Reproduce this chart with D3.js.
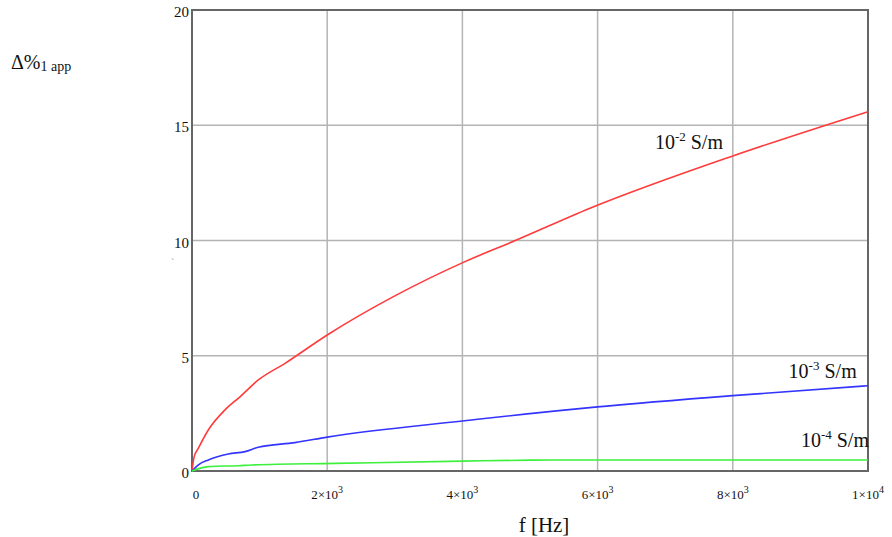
<!DOCTYPE html>
<html>
<head>
<meta charset="utf-8">
<script src="https://cdn.jsdelivr.net/npm/d3@7"></script>
<style>
  body { margin: 0; background: #fff; }
  text { font-family: "Liberation Serif", "Times New Roman", serif; fill: #111; }
</style>
</head>
<body>
<div id="chart"></div>
<script>
// frequency axis ticks (mantissa x 10^exp)
var xTicks = [0, 2000, 4000, 6000, 8000, 10000];
var xTickMant = ["0", "2×10", "4×10", "6×10", "8×10", "1×10"];
var xTickExp = ["", "3", "3", "3", "3", "4"];
var yTicks = [0, 5, 10, 15, 20];

// sigma = 1e-2 S/m
var redF = [0, 30, 93, 241, 488, 710, 981, 1376, 2000, 3028, 4005, 4800, 5888, 8000, 10000];
var redV = [0, 0.6, 0.98, 1.78, 2.65, 3.22, 3.95, 4.67, 5.9, 7.64, 9.04, 10.02, 11.4, 13.67, 15.59];
// sigma = 1e-3 S/m
var blueF = [0, 100, 241, 537, 784, 981, 1523, 2000, 4000, 6000, 8000, 10000];
var blueV = [0, 0.28, 0.48, 0.74, 0.84, 1.03, 1.23, 1.47, 2.17, 2.78, 3.27, 3.70];
// sigma = 1e-4 S/m
var greenF = [0, 241, 685, 882, 2115, 4000, 5000, 6000, 8000, 10000];
var greenV = [0, 0.19, 0.23, 0.26, 0.33, 0.43, 0.47, 0.48, 0.48, 0.48];

var seriesNames = ["-2", "-3", "-4"];
var seriesColors = ["#ff3b3b", "#3434ff", "#3cf03c"];
// label anchor in data coords (right end of text, baseline)
var labelF = [7855, 9833, 10015];
var labelV = [13.96, 4.02, 1.03];

var W = 892, H = 537;
var margin = {left: 192, top: 10, right: 24, bottom: 66};
var w = W - margin.left - margin.right;
var h = H - margin.top - margin.bottom;

var svg = d3.select("#chart").append("svg")
    .attr("width", W)
    .attr("height", H);

var g = svg.append("g")
    .attr("transform", "translate(" + margin.left + "," + margin.top + ")");

var x = d3.scaleLinear().domain([0, 10000]).range([0, w]);
var y = d3.scaleLinear().domain([0, 20]).range([h, 0]);

// grid
g.selectAll(".vgrid")
    .data(xTicks.slice(1, -1))
    .enter().append("line")
    .attr("x1", function(d) { return x(d); })
    .attr("x2", function(d) { return x(d); })
    .attr("y1", 0).attr("y2", h)
    .attr("stroke", "#b4b4b4").attr("stroke-width", 1.5);

g.selectAll(".hgrid")
    .data(yTicks.slice(1, -1))
    .enter().append("line")
    .attr("y1", function(d) { return y(d); })
    .attr("y2", function(d) { return y(d); })
    .attr("x1", 0).attr("x2", w)
    .attr("stroke", "#b4b4b4").attr("stroke-width", 1.5);

// frame
g.append("rect")
    .attr("x", 0).attr("y", 0)
    .attr("width", w).attr("height", h)
    .attr("fill", "none")
    .attr("stroke", "#666").attr("stroke-width", 2);

// curves
var line = d3.line()
    .curve(d3.curveMonotoneX)
    .x(function(d) { return x(d[0]); })
    .y(function(d) { return y(d[1]); });

var allF = [redF, blueF, greenF];
var allV = [redV, blueV, greenV];

allF.forEach(function(fs, i) {
    var pts = fs.map(function(f, k) { return [f, allV[i][k]]; });
    g.append("path")
        .datum(pts)
        .attr("d", line)
        .attr("fill", "none")
        .attr("stroke", seriesColors[i])
        .attr("stroke-width", 1.6);
});

// curve labels
seriesNames.forEach(function(s, i) {
    var t = g.append("text")
        .attr("x", x(labelF[i]))
        .attr("y", y(labelV[i]))
        .attr("text-anchor", "end")
        .style("font-size", "20px");
    t.append("tspan").text("10");
    t.append("tspan").attr("dy", -8).style("font-size", "13px").text(s);
    t.append("tspan").attr("dy", 8).text(" S/m");
});

// y tick labels
g.selectAll(".ylab")
    .data(yTicks)
    .enter().append("text")
    .attr("x", -3)
    .attr("y", function(d) { return y(d) + 7; })
    .attr("text-anchor", "end")
    .style("font-size", "15px")
    .text(function(d) { return d; });

// x tick labels
xTicks.forEach(function(d, i) {
    var t = g.append("text")
        .attr("x", x(d) + (i === 0 ? 4 : 0))
        .attr("y", h + 28)
        .attr("text-anchor", "middle")
        .style("font-size", "13px");
    t.append("tspan").text(xTickMant[i]);
    if (xTickExp[i]) {
        t.append("tspan").attr("dy", -6).style("font-size", "10px").text(xTickExp[i]);
    }
});

// axis titles
svg.append("text")
    .attr("x", 544)
    .attr("y", 532)
    .attr("text-anchor", "middle")
    .style("font-size", "21px")
    .text("f [Hz]");

var yt = svg.append("text")
    .attr("x", 11)
    .attr("y", 69)
    .style("font-size", "20px");
yt.append("tspan").text("Δ%");
yt.append("tspan").attr("dy", 2).style("font-size", "14px").text("1 app");

// stray mark left of the axis
svg.append("text")
    .attr("x", 171)
    .attr("y", 266)
    .style("font-size", "10px")
    .style("fill", "#999")
    .text("`");
</script>
</body>
</html>
